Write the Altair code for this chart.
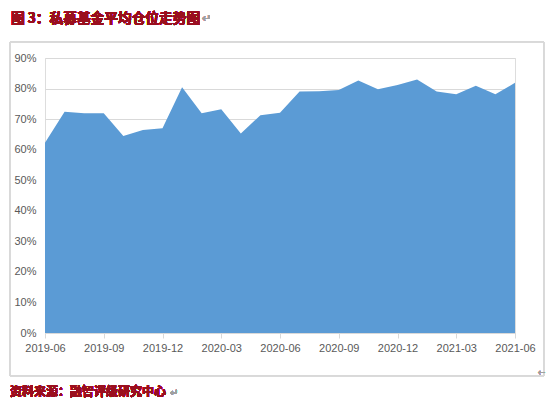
import altair as alt
import pandas as pd

months = ["2019-06", "2019-07", "2019-08", "2019-09", "2019-10", "2019-11", "2019-12",
          "2020-01", "2020-02", "2020-03", "2020-04", "2020-05", "2020-06",
          "2020-07", "2020-08", "2020-09", "2020-10", "2020-11", "2020-12",
          "2021-01", "2021-02", "2021-03", "2021-04", "2021-05", "2021-06"]
position = [0.623, 0.724, 0.719, 0.719, 0.645, 0.664, 0.670,
            0.804, 0.719, 0.732, 0.653, 0.713, 0.721,
            0.790, 0.791, 0.795, 0.826, 0.798, 0.812,
            0.830, 0.790, 0.781, 0.809, 0.781, 0.819]
tick_labels = ["2019-06", "2019-09", "2019-12", "2020-03", "2020-06",
               "2020-09", "2020-12", "2021-03", "2021-06"]
y_ticks = [0, 0.1, 0.2, 0.3, 0.4, 0.5, 0.6, 0.7, 0.8, 0.9]

title_text = "图 3：私募基金平均仓位走势图"
source_text = "资料来源：融智评级研究中心"

df = pd.DataFrame({"month": months, "value": position})

W, H = 470, 275
red = "#9A0F1E"
cjk = "Noto Sans CJK SC"

area = alt.Chart(df).mark_area(color="#5B9BD5", opacity=1).encode(
    x=alt.X("month:O", sort=months,
            scale=alt.Scale(type="point", padding=0),
            axis=alt.Axis(values=tick_labels, labelAngle=0, title=None,
                          domainColor="#d9d9d9", tickColor="#d9d9d9", tickSize=5,
                          labelPadding=4, labelColor="#595959", labelFontSize=11,
                          labelFont="Liberation Sans", grid=False)),
    y=alt.Y("value:Q", scale=alt.Scale(domain=[0, 0.9], nice=False),
            axis=alt.Axis(values=y_ticks, format=".0%", title=None, domain=False,
                          ticks=False, labelPadding=9, gridColor="#d9d9d9",
                          labelColor="#595959", labelFontSize=11,
                          labelFont="Liberation Sans")),
)

frame = alt.Chart(df).mark_rect(fill=None, stroke="#d9d9d9", strokeWidth=1).encode(
    x=alt.value(-35), x2=alt.value(499), y=alt.value(-16), y2=alt.value(318)
)

title = alt.Chart(df).mark_text(align="left", baseline="alphabetic", font=cjk,
                                fontWeight="bold", fontSize=13.7, color=red,
                                text=title_text).encode(
    x=alt.value(-34), y=alt.value(-35)
)
title_ret = alt.Chart(df).mark_text(align="left", baseline="alphabetic", font=cjk,
                                    fontSize=11, color="#a0a0a0", text="↵").encode(
    x=alt.value(157), y=alt.value(-36)
)
source = alt.Chart(df).mark_text(align="left", baseline="alphabetic", font=cjk,
                                 fontWeight="bold", fontSize=12, color=red,
                                 text=source_text).encode(
    x=alt.value(-35), y=alt.value(338)
)
source_ret = alt.Chart(df).mark_text(align="left", baseline="alphabetic", font=cjk,
                                     fontSize=10, color="#a0a0a0", text="↵").encode(
    x=alt.value(125), y=alt.value(338)
)
corner_ret = alt.Chart(df).mark_text(align="right", baseline="middle", font=cjk,
                                     fontSize=7, color="#a0a0a0", text="←").encode(
    x=alt.value(500), y=alt.value(315)
)

chart = alt.layer(area, frame, title, title_ret, source, source_ret, corner_ret).properties(
    width=W, height=H,
    autosize=alt.AutoSizeParams(type="none"),
    padding={"left": 37, "top": 50, "right": 31, "bottom": 66},
).configure_view(stroke=None).configure(background="white")

chart.save("out.html", embed_options={"renderer": "svg", "actions": False})
